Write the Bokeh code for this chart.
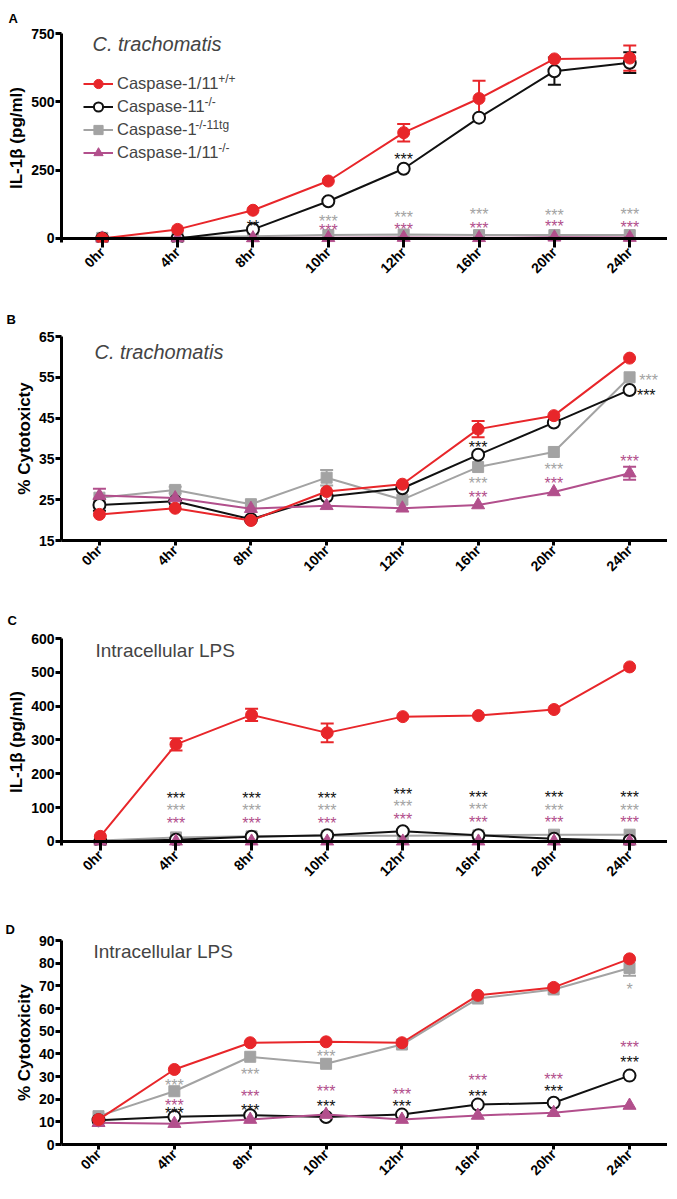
import math
from bokeh.plotting import figure
from bokeh.models import (ColumnDataSource, Whisker, TeeHead, Span, Label, Legend,
                          LegendItem, FixedTicker, Range1d, Title)
from bokeh.layouts import column
from bokeh.embed import file_html
from bokeh.resources import INLINE
from bokeh.core.properties import value

FONT = "Liberation Sans"

# ---------------- data ----------------
hours = ["0hr", "4hr", "8hr", "10hr", "12hr", "16hr", "20hr", "24hr"]
series_keys = ["wt", "c11", "c1tg", "dko"]
legend_main = ["Caspase-1/11", "Caspase-11", "Caspase-1", "Caspase-1/11"]
legend_sup = ["+/+", "-/-", "-/-11tg", "-/-"]

# Panel A: IL-1b, C. trachomatis
a_wt = [0, 33, 103, 210, 387, 512, 657, 660]
a_wt_err = [0, 0, 0, 0, 32, 65, 0, 46]
a_c11 = [0, 0, 33, 136, 255, 442, 612, 643]
a_c11_err = [0, 0, 0, 0, 0, 0, 50, 38]
a_c1tg = [2, 4, 8, 12, 14, 12, 12, 12]
a_c1tg_err = [0, 0, 0, 0, 0, 0, 0, 0]
a_dko = [0, 1, 1, 2, 3, 2, 4, 3]
a_dko_err = [0, 0, 0, 0, 0, 0, 0, 0]
a_star_x = [2, 3, 3, 4, 4, 4, 5, 5, 6, 6, 7, 7]
a_star_y = [58, 76, 45, 304, 91, 48, 102, 51, 99, 58, 102, 55]
a_star_txt = ["**", "***", "***", "***", "***", "***", "***", "***", "***", "***", "***", "***"]
a_star_grp = ["c11", "c1tg", "dko", "c11", "c1tg", "dko", "c1tg", "dko", "c1tg", "dko", "c1tg", "dko"]

# Panel B: % cytotoxicity, C. trachomatis
b_wt = [21.4, 22.9, 19.9, 27.0, 28.8, 42.3, 45.6, 59.7]
b_wt_err = [0, 0, 0, 0, 0, 2.0, 0, 0]
b_c11 = [23.7, 24.6, 20.2, 25.8, 27.8, 36.0, 43.9, 51.9]
b_c11_err = [1.4, 0, 0, 0, 0, 0, 0, 0]
b_c1tg = [25.5, 27.4, 23.9, 30.4, 25.0, 33.0, 36.7, 55.0]
b_c1tg_err = [0, 0.8, 0, 1.9, 0, 0, 0, 0]
b_dko = [26.0, 25.4, 22.8, 23.5, 22.9, 23.7, 26.9, 31.5]
b_dko_err = [1.7, 0, 0, 0, 0, 0, 0, 1.6]
b_star_x = [5, 5, 5, 6, 6, 7.25, 7.22, 7]
b_star_y = [38.7, 29.9, 26.4, 33.4, 29.9, 55.2, 51.5, 35.3]
b_star_txt = ["***"] * 8
b_star_grp = ["c11", "c1tg", "dko", "c1tg", "dko", "c1tg", "c11", "dko"]

# Panel C: IL-1b, intracellular LPS
c_wt = [15, 287, 374, 321, 369, 372, 390, 516]
c_wt_err = [0, 18, 18, 28, 0, 0, 0, 0]
c_c11 = [0, 5, 14, 18, 30, 18, 8, 2]
c_c11_err = [0, 0, 0, 0, 0, 0, 0, 0]
c_c1tg = [3, 12, 15, 17, 17, 18, 20, 20]
c_c1tg_err = [0, 0, 0, 0, 0, 0, 0, 0]
c_dko = [0, 0, 0, 0, 0, 0, 0, 0]
c_dko_err = [0, 0, 0, 0, 0, 0, 0, 0]
c_star_x = [1, 1, 1, 2, 2, 2, 3, 3, 3, 4, 4, 4, 5, 5, 5, 6, 6, 6, 7, 7, 7]
c_star_y = [139, 103, 66, 139, 103, 66, 139, 103, 66, 152, 116, 78,
            143, 106, 69, 141, 104, 67, 141, 104, 67]
c_star_txt = ["***"] * 21
c_star_grp = ["c11", "c1tg", "dko"] * 7

# Panel D: % cytotoxicity, intracellular LPS
d_wt = [11.0, 33.1, 44.9, 45.3, 44.9, 65.8, 69.3, 81.9]
d_wt_err = [0, 0, 0, 0, 0, 0, 0, 0]
d_c11 = [10.7, 12.2, 12.9, 12.1, 13.2, 17.6, 18.4, 30.4]
d_c11_err = [0, 0, 0, 0, 0, 0, 0, 0]
d_c1tg = [12.5, 23.5, 38.7, 35.6, 44.1, 64.4, 68.4, 77.9]
d_c1tg_err = [0, 0, 0, 0, 0, 0, 0, 3.4]
d_dko = [9.6, 9.2, 11.0, 13.2, 11.0, 12.8, 14.0, 17.2]
d_dko_err = [0, 0, 0, 0, 0, 0, 0, 0]
d_star_x = [1, 1, 1, 2, 2, 2, 3, 3, 3, 4, 4, 5, 5, 6, 6, 7, 7, 7]
d_star_y = [27.6, 19.1, 15.4, 32.8, 22.8, 16.9, 40.7, 25.0, 18.7, 24.0, 18.4,
            29.9, 23.1, 30.4, 25.0, 70.1, 44.4, 37.8]
d_star_txt = ["***"] * 15 + ["*", "***", "***"]
d_star_grp = ["c1tg", "dko", "c11", "c1tg", "dko", "c11", "c1tg", "dko", "c11",
              "dko", "c11", "dko", "c11", "dko", "c11", "c1tg", "dko", "c11"]

# ---------------- styles ----------------
COLORS = {"wt": "#e8262a", "c11": "#111111", "c1tg": "#a3a3a3", "dko": "#b24f8c"}
MARKERS = {"wt": "circle", "c11": "circle", "c1tg": "square", "dko": "triangle"}
SIZES = {"wt": 12, "c11": 12, "c1tg": 11, "dko": 13}
FILLS = {"wt": COLORS["wt"], "c11": "white", "c1tg": COLORS["c1tg"], "dko": COLORS["dko"]}
DRAW_ORDER = ["c1tg", "c11", "dko", "wt"]

X0, STEP = 100.0, 75.86   # screenshot x of first category, px per category
OFF_X, OFF_Y = 2, 1       # where the page content starts in the screenshot
FRAME_RIGHT = 669

CHAR_W = {"C": .722, "a": .556, "s": .5, "p": .556, "e": .556, "-": .333, "1": .556, "/": .278}


def text_width(t, size):
    return sum(CHAR_W.get(ch, .556) for ch in t) * size


def make_panel(letter, title, italic, ylabel, yticks, yrange, vals, errs, stars, geom,
               zero_line, legend=False):
    fig_top, height, bt, bb, frame_left = geom
    frame_top = fig_top + bt
    frame_bottom = fig_top + height - bb
    x_start = (frame_left - X0) / STEP
    x_end = (len(hours) - 1) + (FRAME_RIGHT - (X0 + STEP * (len(hours) - 1))) / STEP
    p = figure(width=FRAME_RIGHT - OFF_X, height=height, output_backend="svg",
               toolbar_location=None,
               x_range=Range1d(x_start, x_end), y_range=Range1d(*yrange),
               min_border_left=frame_left - OFF_X, min_border_right=0,
               min_border_top=bt, min_border_bottom=bb)
    p.outline_line_color = None
    p.grid.visible = False
    p.background_fill_color = "white"
    p.border_fill_color = "white"

    # panel letter as a title placed in the top border
    letter_bottom = letter[1] + 5
    standoff = max(0, min(frame_top - letter_bottom - 4, bt - 17))
    p.title = Title(text=letter[0], align="left", offset=letter[2] - frame_left,
                    standoff=standoff, text_font=FONT, text_font_style="bold",
                    text_font_size="13px", text_color="black")

    # axes
    ya = p.yaxis[0]
    ya.ticker = FixedTicker(ticks=yticks)
    ya.axis_line_width = 3
    ya.major_tick_line_width = 3
    ya.major_tick_out = 6
    ya.major_tick_in = 0
    ya.minor_tick_line_color = None
    ya.major_label_standoff = 1
    ya.major_label_text_font = FONT
    ya.major_label_text_font_style = "bold"
    ya.major_label_text_font_size = "14px"
    ya.major_label_text_color = "black"
    ya.axis_label = ylabel
    ya.axis_label_text_font = FONT
    ya.axis_label_text_font_style = "bold"
    ya.axis_label_text_font_size = "17px"
    ya.axis_label_text_color = "black"
    ya.axis_label_standoff = 2

    xa = p.xaxis[0]
    xa.ticker = FixedTicker(ticks=list(range(len(hours))))
    xa.major_label_overrides = {i: h for i, h in enumerate(hours)}
    xa.major_label_orientation = math.pi / 4
    xa.major_label_text_font = FONT
    xa.major_label_text_font_style = "bold"
    xa.major_label_text_font_size = "14px"
    xa.major_label_text_color = "black"
    xa.major_label_standoff = 2
    xa.major_tick_line_width = 3
    xa.minor_tick_line_color = None
    xa.major_tick_out = 5
    if zero_line:
        xa.axis_line_color = None
        xa.major_tick_in = 4
        p.add_layout(Span(location=0, dimension="width", line_color="black", line_width=3))
    else:
        xa.axis_line_width = 3
        xa.major_tick_in = 0

    rends = {}
    for key in DRAW_ORDER:
        c = COLORS[key]
        y = vals[key]
        e = errs[key]
        bx = [i for i in range(len(hours)) if e[i] > 0]
        if bx:
            src = ColumnDataSource(dict(base=bx, upper=[y[i] + e[i] for i in bx],
                                        lower=[y[i] - e[i] for i in bx]))
            p.add_layout(Whisker(source=src, base="base", upper="upper", lower="lower",
                                 dimension="height", line_color=c, line_width=2,
                                 upper_head=TeeHead(size=13, line_color=c, line_width=2),
                                 lower_head=TeeHead(size=13, line_color=c, line_width=2)))
        src = ColumnDataSource(dict(x=list(range(len(hours))), y=y))
        lr = p.line("x", "y", source=src, line_color=c, line_width=2)
        sr = p.scatter("x", "y", source=src, marker=MARKERS[key], size=SIZES[key],
                       fill_color=FILLS[key], line_color=c,
                       line_width=2 if key == "c11" else 1)
        rends[key] = (lr, sr)

    sx, sy, stxt, sgrp = stars
    ssrc = ColumnDataSource(dict(x=sx, y=sy, t=stxt, c=[COLORS[g] for g in sgrp]))
    p.text("x", "y", text="t", source=ssrc, text_color="c", text_align="center",
           text_baseline="middle", text_font=value(FONT), text_font_size="16px",
           y_offset=4)

    # title inside the frame (screen units relative to frame)
    p.add_layout(Label(x=title[1] - frame_left, y=frame_bottom - title[2], x_units="screen",
                       y_units="screen", text=title[0], text_font=FONT,
                       text_font_style="italic" if italic else "normal",
                       text_font_size=title[3], text_baseline="middle", text_align="left"))

    if legend:
        row_h = 23
        top_y = 73
        leg_left = 81
        fs = 16.5
        items = [LegendItem(label=legend_main[i], renderers=list(rends[k]))
                 for i, k in enumerate(series_keys)]
        lg = Legend(items=items, location=(leg_left - frame_left,
                                           frame_bottom - (top_y + row_h * len(items))),
                    orientation="vertical", padding=0, margin=0, spacing=0,
                    glyph_width=30, glyph_height=row_h, label_height=row_h,
                    label_standoff=4, label_text_font=FONT, label_text_font_size=f"{fs}px",
                    border_line_color=None, background_fill_alpha=0)
        p.add_layout(lg)
        text_x = leg_left + 30 + 4
        for i in range(len(items)):
            cy = top_y + row_h * i + row_h / 2
            p.add_layout(Label(x=text_x + text_width(legend_main[i], fs) - 2 - frame_left,
                               y=frame_bottom - (cy - 5), x_units="screen", y_units="screen",
                               text=legend_sup[i], text_font=FONT, text_font_size="12px",
                               text_baseline="middle", text_align="left"))
    return p


# geom = (fig_top, height, border_top, border_bottom, frame_left) in screenshot pixels
pA = make_panel(("A", 10, 6), ("C. trachomatis", 90, 44, "20px"), True, "IL-1β (pg/ml)",
                [0, 250, 500, 750], (-15, 750),
                dict(wt=a_wt, c11=a_c11, c1tg=a_c1tg, dko=a_dko),
                dict(wt=a_wt_err, c11=a_c11_err, c1tg=a_c1tg_err, dko=a_dko_err),
                (a_star_x, a_star_y, a_star_txt, a_star_grp),
                (OFF_Y, 286 - OFF_Y, 34 - OFF_Y, 43, 59), True, legend=True)
pB = make_panel(("B", 309, 7), ("C. trachomatis", 95, 352, "20px"), True, "% Cytotoxicty",
                [15, 25, 35, 45, 55, 65], (15, 65),
                dict(wt=b_wt, c11=b_c11, c1tg=b_c1tg, dko=b_dko),
                dict(wt=b_wt_err, c11=b_c11_err, c1tg=b_c1tg_err, dko=b_dko_err),
                (b_star_x, b_star_y, b_star_txt, b_star_grp),
                (286, 298, 51, 43, 62), False)
pC = make_panel(("C", 608, 7), ("Intracellular LPS", 95, 652, "19px"), False, "IL-1β (pg/ml)",
                [0, 100, 200, 300, 400, 500, 600], (-12, 600),
                dict(wt=c_wt, c11=c_c11, c1tg=c_c1tg, dko=c_dko),
                dict(wt=c_wt_err, c11=c_c11_err, c1tg=c_c1tg_err, dko=c_dko_err),
                (c_star_x, c_star_y, c_star_txt, c_star_grp),
                (584, 304, 55, 41, 61), True)
pD = make_panel(("D", 924, 7), ("Intracellular LPS", 95, 952, "19px"), False, "% Cytotoxicity",
                [0, 10, 20, 30, 40, 50, 60, 70, 80, 90], (0, 90),
                dict(wt=d_wt, c11=d_c11, c1tg=d_c1tg, dko=d_dko),
                dict(wt=d_wt_err, c11=d_c11_err, c1tg=d_c1tg_err, dko=d_dko_err),
                (d_star_x, d_star_y, d_star_txt, d_star_grp),
                (888, 307, 53, 50, 63), False)

layout = column(pA, pB, pC, pD, spacing=0)
open("out.html", "w").write(file_html(layout, INLINE))
